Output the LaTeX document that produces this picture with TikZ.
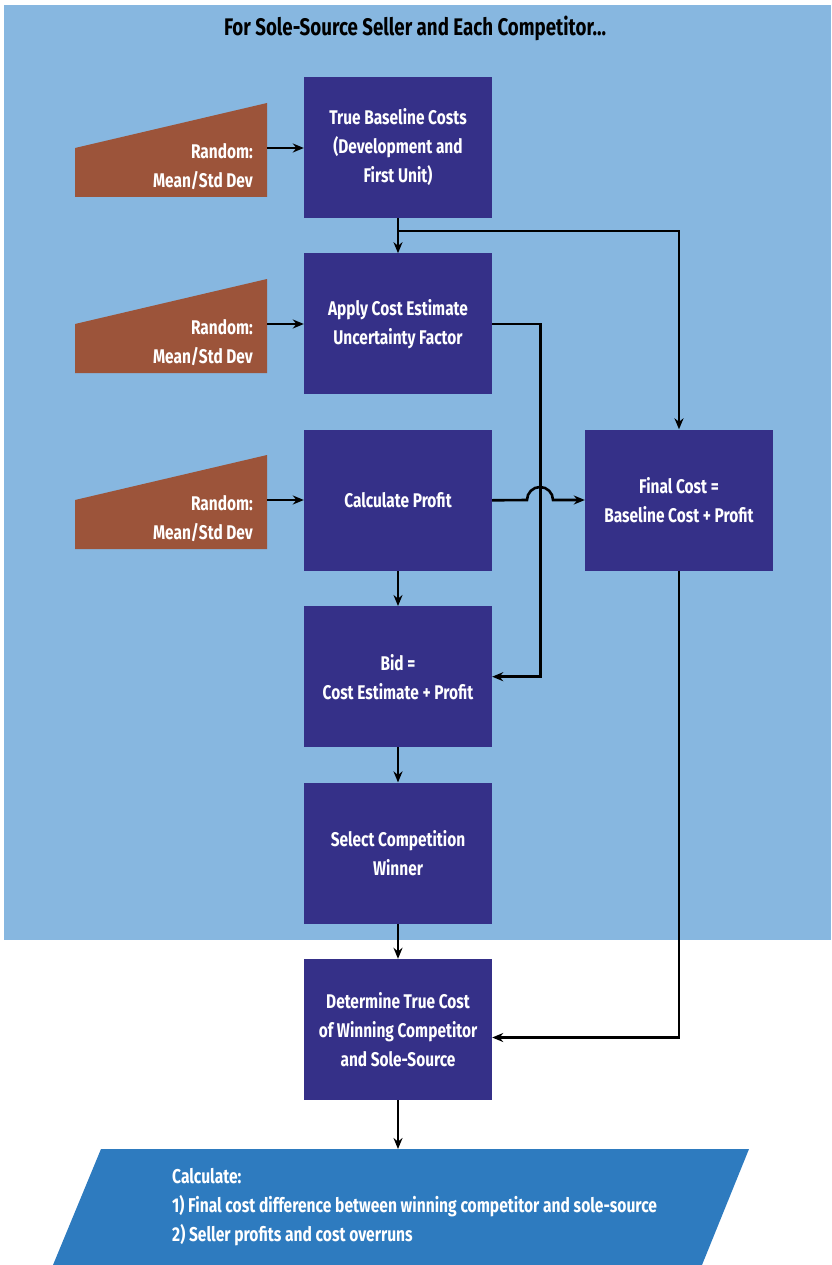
\documentclass[tikz,border=0pt]{standalone}
\usepackage{fontspec}
\setmainfont{Fira Sans}[FakeStretch=0.78]
\usetikzlibrary{arrows.meta,positioning}
\definecolor{bgblue}{HTML}{87B7E0}
\definecolor{boxblue}{HTML}{353088}
\definecolor{rndbrown}{HTML}{9C543A}
\definecolor{calcblue}{HTML}{2E7BBF}
\tikzstyle{stepnode} = [fill=boxblue, text=white, rectangle, minimum width=188pt,
    minimum height=141pt, inner sep=0pt, align=center,
    font=\fontsize{19.8}{29}\selectfont\bfseries]
\tikzstyle{rndtext} = [text=white, align=right, anchor=east, inner sep=0pt,
    font=\fontsize{19.8}{29}\selectfont\bfseries]
\tikzstyle{flow} = [-{Stealth[length=11pt,width=9pt]}, line width=2.6pt, black]

\begin{document}
\begin{tikzpicture}[x=1pt, y=-1pt, node distance=35pt]
                \useasboundingbox (0,0) rectangle (831,1265);
                \fill[bgblue] (4,5) rectangle (831,940);
                \node[font=\fontsize{24}{28}\selectfont\bfseries, inner sep=0pt] (title) at (415,28) {For Sole-Source Seller and Each Competitor...};

                \node[stepnode] (box1) at (398,147.5) {True Baseline Costs\\(Development and\\First Unit)};
                \node[stepnode, below=of box1] (box2) {Apply Cost Estimate\\Uncertainty Factor};
                \node[stepnode, below=of box2] (box3) {Calculate Profit};
                \node[stepnode, below=of box3] (box4) {Bid =\\Cost Estimate + Profit};
                \node[stepnode, below=of box4] (box5) {Select Competition\\Winner};
                \node[stepnode, below=of box5] (box6) {Determine True Cost\\of Winning Competitor\\and Sole-Source};
                \node[stepnode] (final) at (679,500) {Final Cost =\\Baseline Cost + Profit};

                \fill[rndbrown] (75,148) -- (267,103) -- (267,197) -- (75,197) -- cycle;
                \node[rndtext] (rnd1) at (253,167) {Random:\\Mean/Std Dev};
                \coordinate (rnd1out) at (267,148);
                \fill[rndbrown] (75,324) -- (267,279) -- (267,373) -- (75,373) -- cycle;
                \node[rndtext] (rnd2) at (253,343) {Random:\\Mean/Std Dev};
                \coordinate (rnd2out) at (267,324);
                \fill[rndbrown] (75,500) -- (267,455) -- (267,549) -- (75,549) -- cycle;
                \node[rndtext] (rnd3) at (253,519) {Random:\\Mean/Std Dev};
                \coordinate (rnd3out) at (267,500);

                \fill[calcblue] (101,1149) -- (749,1149) -- (702,1265) -- (53,1265) -- cycle;
                \node[text=white, align=left, anchor=west, inner sep=0pt,
                    font=\fontsize{20}{29}\selectfont\bfseries] (calc) at (172,1207)
                    {Calculate:\\1) Final cost difference between winning competitor and sole-source\\2) Seller profits and cost overruns};
                \coordinate (calctop) at (398,1149);

                \draw[flow] (rnd1out) -- (rnd1out -| box1.west);
                \draw[flow] (rnd2out) -- (rnd2out -| box2.west);
                \draw[flow] (rnd3out) -- (rnd3out -| box3.west);
                \draw[flow] (box1) -- (box2);
                \coordinate (split) at (398,231);
                \draw[flow] (split) -| (final.north);
                \draw[flow] (box2.east) -- ++(48,0) |- (box4.east);
                \draw[flow] (box3.east) -- (527,500) arc[start angle=180, end angle=0, radius=13pt] -- (final.west);
                \draw[flow] (box3) -- (box4);
                \draw[flow] (box4) -- (box5);
                \draw[flow] (box5) -- (box6);
                \draw[flow] (final.south) |- ([yshift=-8pt]box6.east);
                \draw[flow] (box6) -- (calctop);
            \end{tikzpicture}
\end{document}
